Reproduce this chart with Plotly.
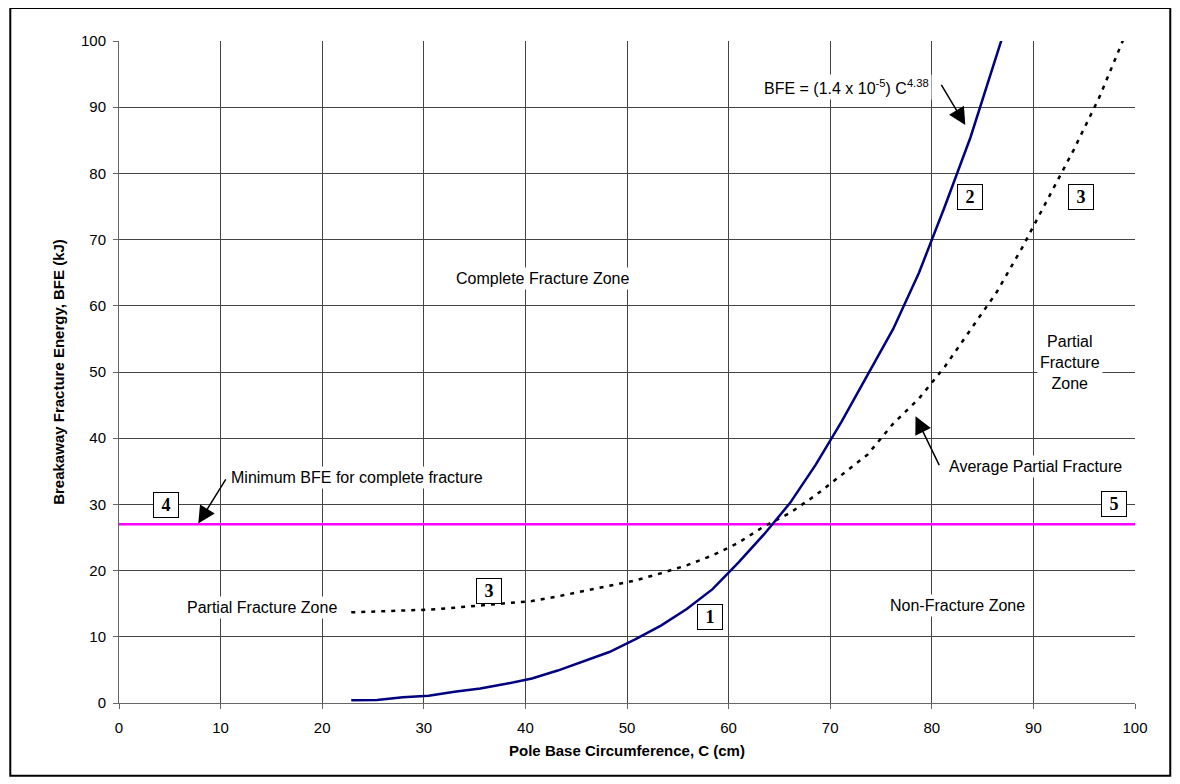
import plotly.graph_objects as go

# Pole base circumference (cm), sampled every 2.54 cm (1 inch)
circ = [22.86, 25.40, 27.94, 30.48, 33.02, 35.56, 38.10, 40.64, 43.18, 45.72,
        48.26, 50.80, 53.34, 55.88, 58.42, 60.96, 63.50, 66.04, 68.58, 71.12,
        73.66, 76.20, 78.74, 81.28, 83.82, 86.36, 88.90, 91.44, 93.98, 96.52, 99.06]

# Complete fracture BFE (kJ), solid navy curve
bfe_complete = [0.4, 0.45, 0.85, 1.1, 1.7, 2.2, 2.9, 3.7, 4.9, 6.3,
                7.7, 9.6, 11.7, 14.2, 17.2, 21.2, 25.5, 30.2, 36.0, 42.5,
                49.5, 56.5, 65.0, 75.0, 85.5, 97.5, 110.0]

# Average partial fracture BFE (kJ), dotted curve
bfe_partial = [13.7, 13.8, 14.0, 14.1, 14.4, 14.7, 15.0, 15.4, 16.1, 16.9,
               17.6, 18.5, 19.6, 20.8, 22.3, 24.2, 26.7, 28.7, 31.4, 34.4,
               37.5, 42.2, 46.0, 50.8, 56.4, 62.0, 68.8, 76.3, 83.6, 91.6, 101.0]

min_bfe = 27
min_line_x = [0, 100]

x_ticks = list(range(0, 101, 10))
y_ticks = list(range(0, 101, 10))

fig = go.Figure()
fig.add_trace(go.Scatter(x=min_line_x, y=[min_bfe] * len(min_line_x), mode="lines",
                         line=dict(color="#FF00FF", width=2.5), showlegend=False,
                         hoverinfo="skip"))
fig.add_trace(go.Scatter(x=circ, y=bfe_partial, mode="lines",
                         line=dict(color="black", width=2.5, dash="4px,6px"),
                         showlegend=False))
fig.add_trace(go.Scatter(x=circ[:len(bfe_complete)], y=bfe_complete, mode="lines",
                         line=dict(color="#000080", width=2.5), showlegend=False))

txt_font = dict(family="Liberation Sans, Arial", size=16, color="black")
box_font = dict(family="Liberation Serif, Times New Roman", size=18, color="black")

# text labels
labels = [
    ("BFE = (1.4 x 10<sup>-5</sup>) C<sup>4.38</sup>", 71.6, 93.1),
    ("Complete Fracture Zone", 41.7, 64.2),
    ("Partial<br>Fracture<br>Zone", 93.6, 51.4),
    ("Average Partial Fracture", 90.2, 35.7),
    ("Minimum BFE for complete fracture", 23.45, 34.0),
    ("Partial Fracture Zone", 14.1, 14.5),
    ("Non-Fracture Zone", 82.5, 14.7),
]
for t, x, y in labels:
    fig.add_annotation(x=x, y=y, xref="x", yref="y", text=t, showarrow=False,
                       font=txt_font, bgcolor="white", borderpad=2)

# arrows (head at x,y; tail at ax,ay)
arrows = [
    (83.3, 87.3, 80.85, 93.6),
    (78.4, 43.3, 80.8, 35.7),
    (7.8, 27.1, 10.6, 34.0),
]
for x, y, ax, ay in arrows:
    fig.add_annotation(x=x, y=y, ax=ax, ay=ay, xref="x", yref="y", axref="x", ayref="y",
                       text="", showarrow=True, arrowhead=2, arrowsize=2.3,
                       arrowwidth=1.5, arrowcolor="black")

# numbered boxes
boxes = [("2", 83.8, 76.4), ("3", 94.7, 76.4), ("3", 36.4, 16.85),
         ("1", 58.2, 13.0), ("4", 4.6, 29.9), ("5", 97.9, 30.1)]
for t, x, y in boxes:
    fig.add_annotation(x=x, y=y, xref="x", yref="y", text="<b>%s</b>" % t,
                       showarrow=False, font=box_font, bgcolor="white",
                       bordercolor="black", borderwidth=1, borderpad=1,
                       width=22, height=22, align="center", valign="middle")

# outer frame
fig.add_shape(type="rect", xref="paper", yref="paper",
              x0=-0.107, x1=1.0347, y0=-0.1098, y1=1.0498,
              line=dict(color="black", width=2))

axis_common = dict(showgrid=True, gridcolor="#444444", gridwidth=1,
                   showline=True, linecolor="#666666", linewidth=1,
                   ticks="outside", ticklen=5, tickcolor="#666666",
                   tickfont=dict(family="Liberation Sans, Arial", size=15, color="black"),
                   zeroline=False, mirror=False)

fig.update_layout(
    width=1172, height=776,
    margin=dict(l=111, r=45, t=33, b=81),
    paper_bgcolor="white", plot_bgcolor="white",
    xaxis=dict(range=[0, 100], tickvals=x_ticks, ticklabelstandoff=6,
               title=dict(text="<b>Pole Base Circumference, C (cm)</b>",
                          font=dict(family="Liberation Sans, Arial", size=15, color="black"),
                          standoff=10),
               **axis_common),
    yaxis=dict(range=[0, 100], tickvals=y_ticks, ticklabelstandoff=4,
               title=dict(text="<b>Breakaway Fracture Energy, BFE (kJ)</b>",
                          font=dict(family="Liberation Sans, Arial", size=15, color="black"),
                          standoff=12),
               **axis_common),
)

fig.write_html("out.html")
